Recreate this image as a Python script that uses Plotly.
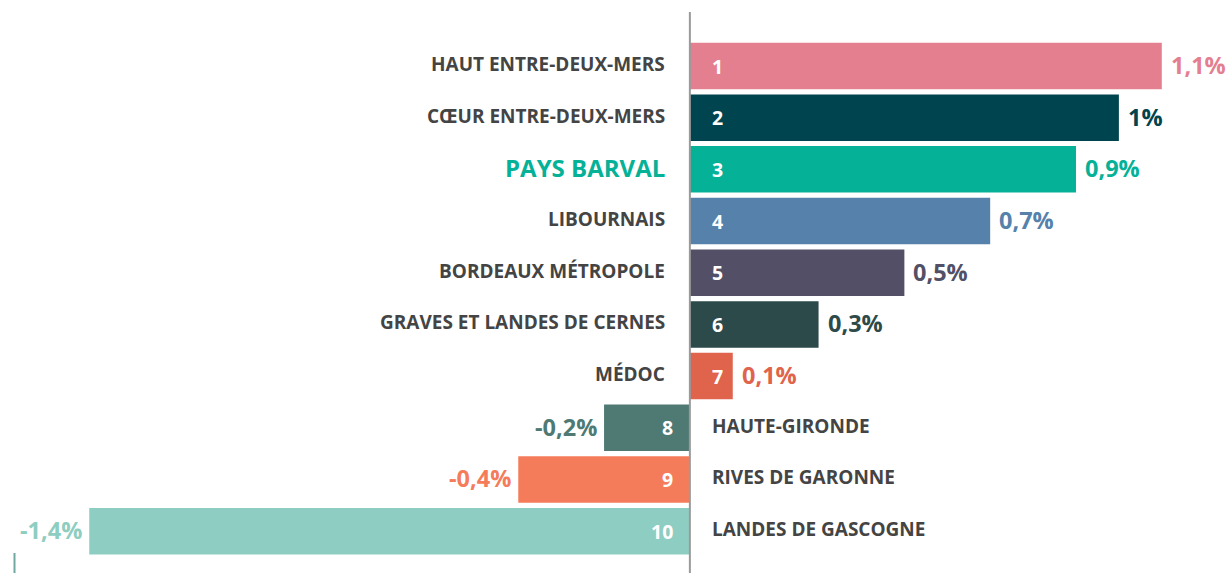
import plotly.graph_objects as go

categories = ["HAUT ENTRE-DEUX-MERS", "CŒUR ENTRE-DEUX-MERS", "PAYS BARVAL", "LIBOURNAIS",
              "BORDEAUX MÉTROPOLE", "GRAVES ET LANDES DE CERNES", "MÉDOC", "HAUTE-GIRONDE",
              "RIVES DE GARONNE", "LANDES DE GASCOGNE"]
values = [1.1, 1.0, 0.9, 0.7, 0.5, 0.3, 0.1, -0.2, -0.4, -1.4]
value_labels = ["1,1%", "1%", "0,9%", "0,7%", "0,5%", "0,3%", "0,1%", "-0,2%", "-0,4%", "-1,4%"]
ranks = ["1", "2", "3", "4", "5", "6", "7", "8", "9", "10"]
colors = ["#e47f8f", "#00444f", "#05b197", "#5581aa", "#524f66", "#2d4a4a",
          "#e0634c", "#4f7a74", "#f47c5b", "#8ecdc1"]
highlight = "PAYS BARVAL"

FONT = "Open Sans"
idx = list(range(len(categories)))

fig = go.Figure(go.Bar(
    x=values, y=idx, orientation="h", marker=dict(color=colors, line=dict(width=0)),
    width=0.9, hoverinfo="skip",
))

ann = []
for i, (cat, v, lab, r, c) in enumerate(zip(categories, values, value_labels, ranks, colors)):
    pos = v >= 0
    ann.append(dict(x=v, y=i, text=lab, showarrow=False, xanchor="left" if pos else "right",
                    xshift=7 if pos else -5, yshift=1,
                    font=dict(family=FONT, size=23.5, color=c, weight="bold")))
    ann.append(dict(x=0, y=i, text=r, showarrow=False, xanchor="left" if pos else "right",
                    xshift=20 if pos else -15,
                    font=dict(family=FONT, size=19.5, color="white", weight="bold")))
    hl = cat == highlight
    ann.append(dict(x=0, y=i, text=cat, showarrow=False, xanchor="right" if pos else "left",
                    xshift=-23 if pos else 20, yshift=2,
                    font=dict(family=FONT, size=24 if hl else 19,
                              color="#05b197" if hl else "#444444", weight="bold")))

fig.update_layout(
    width=1227, height=573, margin=dict(l=0, r=0, t=0, b=0),
    paper_bgcolor="white", plot_bgcolor="white", showlegend=False,
    xaxis=dict(range=[-1.608, 1.252], visible=False, fixedrange=True),
    yaxis=dict(range=[9.81, -1.277], visible=False, fixedrange=True),
    annotations=ann,
    shapes=[
        dict(type="line", xref="x", yref="paper", x0=0, x1=0, y0=0, y1=0.979,
             line=dict(color="#9a9a9a", width=2), layer="above"),
        dict(type="line", xref="paper", yref="paper", x0=14.5/1227, x1=14.5/1227, y0=0, y1=20/573,
             line=dict(color="#6fa8a0", width=2)),
    ],
)

fig.write_html("out.html", config={"displayModeBar": False},
               post_script="document.body.style.margin='0';document.body.style.overflow='hidden';")
